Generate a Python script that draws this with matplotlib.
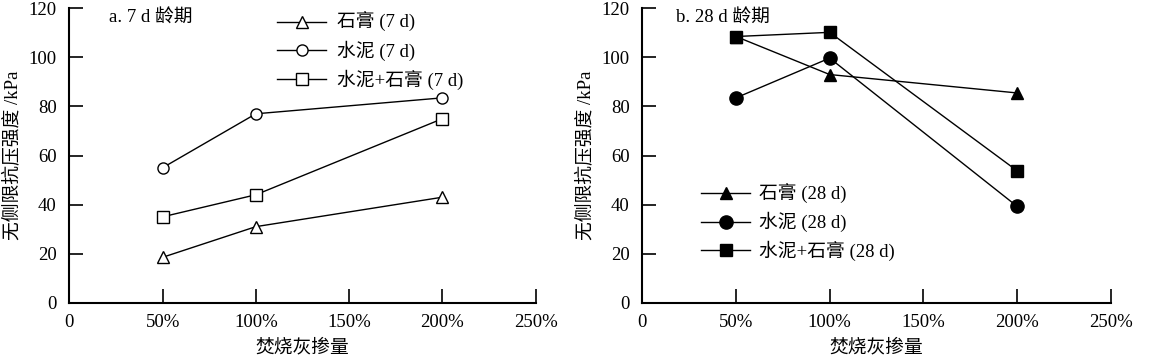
import matplotlib
matplotlib.use("Agg")
import matplotlib.pyplot as plt

plt.rcParams['font.family'] = ['Liberation Serif', 'Noto Sans CJK SC']
plt.rcParams['font.size'] = 13.5

# Data
ash_ratio = [0.5, 1.0, 2.0]
xtick_vals = [0, 0.5, 1.0, 1.5, 2.0, 2.5]
xtick_labels = ['0', '50%', '100%', '150%', '200%', '250%']
ytick_vals = [0, 20, 40, 60, 80, 100, 120]

gypsum_7d = [18.5, 31, 43]
cement_7d = [55, 77, 83.5]
cement_gypsum_7d = [35, 44, 75]

gypsum_28d = [108.5, 93, 85.5]
cement_28d = [83.5, 99.7, 39.3]
cement_gypsum_28d = [108.5, 110.2, 53.8]

labels_7d = ['石膏 (7 d)', '水泥 (7 d)', '水泥+石膏 (7 d)']
labels_28d = ['石膏 (28 d)', '水泥 (28 d)', '水泥+石膏 (28 d)']
ylabel = '无侧限抗压强度 /kPa'
xlabel = '焚烧灰掺量'
title_a = 'a. 7 d 龄期'
title_b = 'b. 28 d 龄期'

W, H = 1153, 360
fig = plt.figure(figsize=(W / 100, H / 100), dpi=100)

def make_ax(x0, x1, y_top, y_bot):
    return fig.add_axes([x0 / W, 1 - y_bot / H, (x1 - x0) / W, (y_bot - y_top) / H])

ax1 = make_ax(69.3, 535.7, 8.3, 302.7)
ax2 = make_ax(642.3, 1110.7, 8.3, 302.7)

def style(ax):
    ax.set_xlim(0, 2.5)
    ax.set_ylim(0, 120)
    ax.set_xticks(xtick_vals)
    ax.set_xticklabels(xtick_labels)
    ax.set_yticks(ytick_vals)
    for s in ['top', 'right']:
        ax.spines[s].set_visible(False)
    for s in ['left', 'bottom']:
        ax.spines[s].set_linewidth(1.5)
    ax.tick_params(direction='in', length=10, width=1.2, labelsize=13.5)
    ax.tick_params(axis='y', pad=9)
    ax.tick_params(axis='x', pad=8)
    ax.set_ylabel(ylabel, fontsize=13.5, labelpad=5)
    ax.set_xlabel(xlabel, fontsize=13.5, labelpad=6)

lw = 1.0
ms7 = 8
ms28 = 8.5

l1, = ax1.plot(ash_ratio, gypsum_7d, color='black', lw=lw, marker='^', ms=ms7,
               mfc='white', mec='black', mew=1.0, label=labels_7d[0])
l2, = ax1.plot(ash_ratio, cement_7d, color='black', lw=lw, marker='o', ms=ms7,
               mfc='white', mec='black', mew=1.0, label=labels_7d[1])
l3, = ax1.plot(ash_ratio, cement_gypsum_7d, color='black', lw=lw, marker='s', ms=ms7,
               mfc='white', mec='black', mew=1.0, label=labels_7d[2])

m3, = ax2.plot(ash_ratio, cement_gypsum_28d, color='black', lw=lw, marker='s', ms=ms28,
               mfc='black', mec='black', label=labels_28d[2])
m1, = ax2.plot(ash_ratio, gypsum_28d, color='black', lw=lw, marker='^', ms=ms28,
               mfc='black', mec='black', label=labels_28d[0])
m2, = ax2.plot(ash_ratio, cement_28d, color='black', lw=lw, marker='o', ms=ms28 + 1,
               mfc='black', mec='black', label=labels_28d[1])

style(ax1)
style(ax2)

ax1.text(0.085, 0.995, title_a, transform=ax1.transAxes, ha='left', va='top', fontsize=13.5)
ax2.text(0.072, 0.995, title_b, transform=ax2.transAxes, ha='left', va='top', fontsize=13.5)

ax1.legend(handles=[l1, l2, l3], loc='upper left', bbox_to_anchor=(0.43, 1.012),
           frameon=False, handlelength=2.6, handletextpad=0.6, labelspacing=0.45,
           fontsize=13.5, borderaxespad=0)
ax2.legend(handles=[m1, m2, m3], loc='upper left', bbox_to_anchor=(0.11, 0.43),
           frameon=False, handlelength=2.6, handletextpad=0.45, labelspacing=0.45,
           fontsize=13.5, borderaxespad=0)

fig.savefig('out.png', dpi=100)
